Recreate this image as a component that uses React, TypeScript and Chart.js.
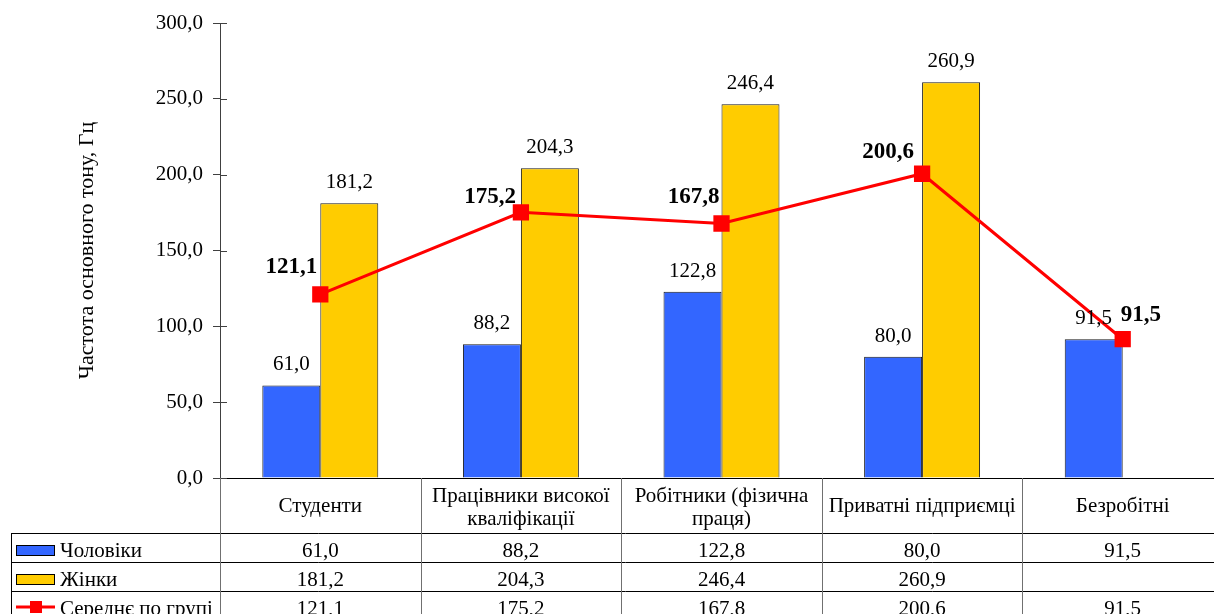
import React, { useEffect, useRef } from "react";
import { Chart, registerables } from "chart.js";

Chart.register(...registerables);

// ---------- data ----------
const categories: string[][] = [
  ["Студенти"],
  ["Працівники високої", "кваліфікації"],
  ["Робітники (фізична", "праця)"],
  ["Приватні підприємці"],
  ["Безробітні"],
];
const menValues: (number | null)[] = [61.0, 88.2, 122.8, 80.0, 91.5];
const womenValues: (number | null)[] = [181.2, 204.3, 246.4, 260.9, null];
const averageValues: (number | null)[] = [121.1, 175.2, 167.8, 200.6, 91.5];
const seriesNames = ["Чоловіки", "Жінки", "Середнє по групі"];
const axisTitle = "Частота основного тону, Гц";
const yMin = 0;
const yMax = 300;
const yStep = 50;

// ---------- style ----------
const FONT = "'Liberation Serif', 'Times New Roman', serif";
const TXT = 21;
const BOLD = 23;
const BLUE = "#3366FF";
const YELLOW = "#FFCC00";
const RED = "#FF0000";
const AXIS = "#404040";
const CANVAS_W = 1240;
const CANVAS_H = 640;
// label nudges for the average labels: [dx of anchor edge, dy of baseline, align]
const avgLabelNudge: [number, number, CanvasTextAlign][] = [
  [-3, -21, "right"],
  [-5, -9, "right"],
  [-2, -21, "right"],
  [-8, -16, "right"],
  [-2, -18, "left"],
];

const fmt = (v: number) => v.toFixed(1).replace(".", ",");

const overlayPlugin = {
  id: "overlay",
  afterDraw(chart: any) {
    const ctx: CanvasRenderingContext2D = chart.ctx;
    const area = chart.chartArea;
    const xs = chart.scales.x;
    const ys = chart.scales.y;
    ctx.save();

    // inner half of cross tick marks
    ctx.strokeStyle = AXIS;
    ctx.lineWidth = 1;
    ctx.beginPath();
    for (let v = yMin; v <= yMax; v += yStep) {
      const py = Math.round(ys.getPixelForValue(v)) + 0.5;
      ctx.moveTo(area.left, py);
      ctx.lineTo(area.left + 7, py);
    }
    ctx.stroke();

    // bar value labels
    ctx.fillStyle = "#000";
    ctx.font = `${TXT}px ${FONT}`;
    ctx.textAlign = "center";
    ctx.textBaseline = "alphabetic";
    [0, 1].forEach((di) => {
      const meta = chart.getDatasetMeta(di);
      const vals = di === 0 ? menValues : womenValues;
      meta.data.forEach((el: any, i: number) => {
        const v = vals[i];
        if (v == null) return;
        ctx.fillText(fmt(v), el.x, el.y - 15);
      });
    });

    // average labels (bold)
    ctx.font = `bold ${BOLD}px ${FONT}`;
    const lmeta = chart.getDatasetMeta(2);
    lmeta.data.forEach((el: any, i: number) => {
      const v = averageValues[i];
      if (v == null) return;
      const [dx, dy, al] = avgLabelNudge[i];
      ctx.textAlign = al;
      ctx.fillText(fmt(v), el.x + dx, el.y + dy);
    });

    // ---------- data table ----------
    const n = categories.length;
    const colW = (area.right - area.left) / n;
    const headerTop = area.bottom;
    const headerBottom = headerTop + 55;
    const rowH = 29;
    const legendLeft = 11;
    const W = chart.width;
    const H = chart.height;

    // horizontal lines
    ctx.strokeStyle = "#000";
    ctx.lineWidth = 1;
    ctx.beginPath();
    for (let r = 0; r <= 3; r++) {
      const yy = Math.round(headerBottom + r * rowH) + 0.5;
      ctx.moveTo(legendLeft, yy);
      ctx.lineTo(W, yy);
    }
    ctx.moveTo(legendLeft + 0.5, headerBottom);
    ctx.lineTo(legendLeft + 0.5, H);
    ctx.stroke();

    // vertical lines
    ctx.strokeStyle = "#707070";
    ctx.beginPath();
    for (let c = 0; c <= n; c++) {
      const xx = Math.round(area.left + c * colW) + 0.5;
      ctx.moveTo(xx, headerTop);
      ctx.lineTo(xx, H);
    }
    ctx.stroke();

    // header labels
    ctx.fillStyle = "#000";
    ctx.font = `${TXT}px ${FONT}`;
    ctx.textAlign = "center";
    categories.forEach((lines, i) => {
      const cx = xs.getPixelForValue(i);
      if (lines.length === 1) {
        ctx.fillText(lines[0], cx, headerTop + 34);
      } else {
        ctx.fillText(lines[0], cx, headerTop + 24);
        ctx.fillText(lines[1], cx, headerTop + 47);
      }
    });

    // rows
    const rows = [menValues, womenValues, averageValues];
    rows.forEach((vals, r) => {
      const top = headerBottom + r * rowH;
      const base = top + 24;
      ctx.textAlign = "center";
      ctx.fillStyle = "#000";
      vals.forEach((v, i) => {
        if (v == null) return;
        ctx.fillText(fmt(v), xs.getPixelForValue(i), base);
      });
      // legend key
      if (r < 2) {
        ctx.fillStyle = r === 0 ? BLUE : YELLOW;
        ctx.fillRect(16, top + 12, 39, 11);
        ctx.strokeStyle = "#000";
        ctx.lineWidth = 1;
        ctx.strokeRect(16.5, top + 12.5, 38, 10);
      } else {
        ctx.strokeStyle = RED;
        ctx.lineWidth = 3;
        ctx.beginPath();
        ctx.moveTo(16, top + 16);
        ctx.lineTo(55, top + 16);
        ctx.stroke();
        ctx.fillStyle = RED;
        ctx.fillRect(30, top + 10, 12, 12);
      }
      ctx.fillStyle = "#000";
      ctx.textAlign = "left";
      ctx.fillText(seriesNames[r], 60, base);
    });

    ctx.restore();
  },
};

export default function App() {
  const canvasRef = useRef<HTMLCanvasElement | null>(null);

  useEffect(() => {
    const canvas = canvasRef.current;
    if (!canvas) return;
    Chart.defaults.font.family = FONT;
    const chart = new Chart(canvas, {
      type: "bar",
      data: {
        labels: categories.map((c) => c.join(" ")),
        datasets: [
          {
            type: "bar",
            label: seriesNames[0],
            data: menValues,
            backgroundColor: BLUE,
            borderColor: "#1a1a1a",
            borderWidth: 1,
            order: 1,
          },
          {
            type: "bar",
            label: seriesNames[1],
            data: womenValues,
            backgroundColor: YELLOW,
            borderColor: "#1a1a1a",
            borderWidth: 1,
            order: 2,
          },
          {
            type: "line",
            label: seriesNames[2],
            data: averageValues,
            borderColor: RED,
            borderWidth: 3,
            backgroundColor: RED,
            pointStyle: "rect",
            pointRadius: 11.5,
            pointBorderWidth: 0,
            pointBackgroundColor: RED,
            tension: 0,
            order: 0,
          } as any,
        ],
      },
      options: {
        responsive: false,
        animation: false,
        devicePixelRatio: 1,
        layout: { padding: { left: 0, top: 23, right: 17, bottom: 162 } },
        datasets: {
          bar: { barPercentage: 1, categoryPercentage: 0.578 },
        },
        plugins: {
          legend: { display: false },
          tooltip: { enabled: false },
          title: { display: false },
        },
        scales: {
          x: {
            ticks: { display: false },
            grid: { display: false },
            border: { display: true, color: "#000", width: 1 },
            afterFit: (s: any) => {
              s.height = 0;
            },
          },
          y: {
            min: yMin,
            max: yMax,
            ticks: {
              stepSize: yStep,
              color: "#000",
              font: { size: TXT, family: FONT },
              padding: 10,
              callback: (v: any) => fmt(Number(v)),
            },
            grid: {
              drawOnChartArea: false,
              drawTicks: true,
              tickLength: 7,
              color: AXIS,
            },
            border: { display: true, color: AXIS, width: 1 },
            title: {
              display: true,
              text: axisTitle,
              color: "#000",
              font: { size: 22, family: FONT },
              padding: { top: 74, bottom: 0 },
            },
            afterFit: (s: any) => {
              s.width = 220;
            },
          },
        },
      },
      plugins: [overlayPlugin],
    });
    return () => chart.destroy();
  }, []);

  return (
    <div
      style={{
        position: "fixed",
        left: 0,
        top: 0,
        width: 1214,
        height: 614,
        overflow: "hidden",
        background: "#fff",
      }}
    >
      <canvas
        ref={canvasRef}
        width={CANVAS_W}
        height={CANVAS_H}
        style={{ display: "block", width: CANVAS_W, height: CANVAS_H }}
      />
    </div>
  );
}
